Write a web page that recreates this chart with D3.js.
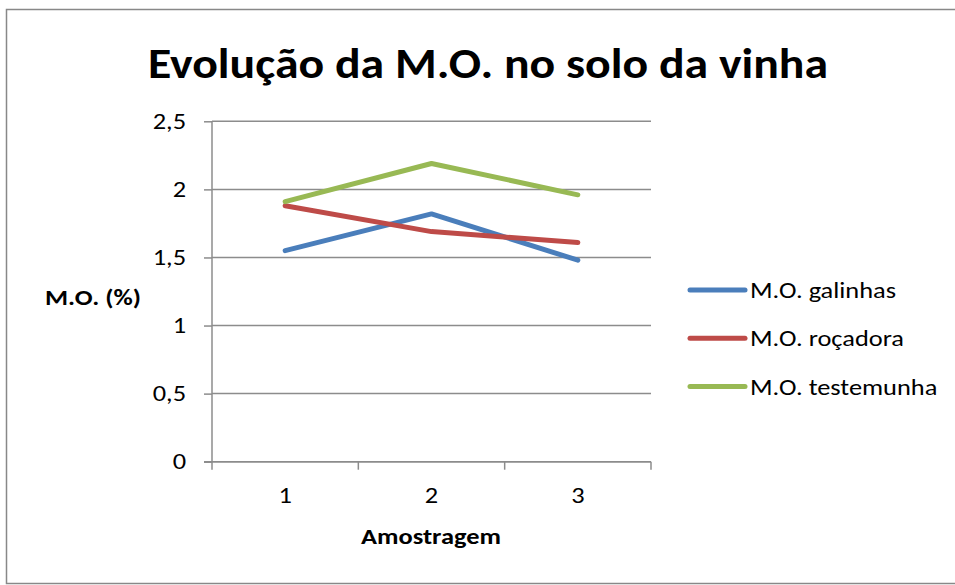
<!DOCTYPE html>
<html><head><meta charset="utf-8">
<script src="https://cdn.jsdelivr.net/npm/d3@7"></script>
<style>
body{margin:0;background:#fff;}
text{font-family:Carlito, Lato, "Open Sans", sans-serif;fill:#000;}
</style></head>
<body><svg id="c" width="955" height="585"></svg>
<script>
const categories = ["1","2","3"];
const galinhas = [1.55, 1.82, 1.48];
const rocadora = [1.88, 1.69, 1.61];
const testemunha = [1.91, 2.19, 1.96];
const seriesNames = ["M.O. galinhas","M.O. roçadora","M.O. testemunha"];
const seriesColors = ["#4A7EBB","#BE4B48","#98B954"];
const yTicks = [0, 0.5, 1, 1.5, 2, 2.5];
const title = "Evolução da M.O. no solo da vinha";
const xTitle = "Amostragem";
const yTitle = "M.O. (%)";

const series = [galinhas, rocadora, testemunha].map((v,i)=>({name:seriesNames[i],color:seriesColors[i],values:v}));
const SX = 1.2; // horizontal text stretch seen in the reference

const svg = d3.select("#c");
svg.append("rect").attr("x",6.5).attr("y",9.5).attr("width",960).attr("height",574)
  .attr("fill","#fff").attr("stroke","#888").attr("stroke-width",1.5);

const L=212, R=651, T=121.3, B=461.7;
const x = d3.scaleBand().domain(categories).range([L,R]);
const y = d3.scaleLinear().domain([0,2.5]).range([B,T]);

// gridlines
svg.append("g").selectAll("line").data(yTicks).join("line")
  .attr("x1",L).attr("x2",R).attr("y1",d=>y(d)).attr("y2",d=>y(d))
  .attr("stroke","#8c8c8c").attr("stroke-width",1.5);

// y axis
const yAxis = svg.append("g").attr("transform",`translate(${L},0)`)
  .call(d3.axisLeft(y).tickValues(yTicks).tickSize(8).tickPadding(9)
    .tickFormat(d=>String(d).replace(".",",")));
yAxis.select(".domain").attr("stroke","#8c8c8c").attr("stroke-width",1.5).attr("d",`M0,${T}V${B}`);
yAxis.selectAll(".tick line").attr("stroke","#8c8c8c").attr("stroke-width",1.5);
yAxis.selectAll("text").style("font-size","22px").attr("fill","#000")
  .attr("x",-26/SX).attr("transform",`scale(${SX},1)`);

// x axis
const xAxis = svg.append("g").attr("transform",`translate(0,${B})`)
  .call(d3.axisBottom(x).tickSize(0).tickPadding(26));
xAxis.select(".domain").attr("stroke","#8c8c8c").attr("stroke-width",1.5).attr("d",`M${L-8},0H${R}`);
xAxis.selectAll("text").style("font-size","22px").attr("fill","#000").attr("transform",`scale(${SX},1)`);
const bounds = [L, ...categories.map(c=>x(c)+x.bandwidth())];
xAxis.append("g").selectAll("line").data(bounds).join("line")
  .attr("x1",d=>d).attr("x2",d=>d).attr("y1",0).attr("y2",8)
  .attr("stroke","#8c8c8c").attr("stroke-width",1.5);

// lines
const line = d3.line().x((d,i)=>x(categories[i])+x.bandwidth()/2).y(d=>y(d));
svg.append("g").selectAll("path").data(series).join("path")
  .attr("d",d=>line(d.values)).attr("fill","none")
  .attr("stroke",d=>d.color).attr("stroke-width",5)
  .attr("stroke-linecap","round").attr("stroke-linejoin","round");

// title
svg.append("text").attr("x",488).attr("y",78).attr("text-anchor","middle")
  .style("font-size","42px").style("font-weight","bold")
  .attr("textLength",680).attr("lengthAdjust","spacingAndGlyphs").text(title);

function stretchedText(px, py, anchor, size, bold, str){
  return svg.append("text").attr("transform",`translate(${px},${py}) scale(${SX},1)`)
    .attr("text-anchor",anchor).style("font-size",size+"px")
    .style("font-weight",bold?"bold":"normal").text(str);
}
stretchedText(431, 544, "middle", 22, true, xTitle);
stretchedText(45, 305, "start", 22, true, yTitle);

// legend
const lg = svg.append("g").selectAll("g").data(series).join("g")
  .attr("transform",(d,i)=>`translate(690,${290+i*48.3})`);
lg.append("line").attr("x1",0).attr("x2",55).attr("y1",0).attr("y2",0)
  .attr("stroke",d=>d.color).attr("stroke-width",5).attr("stroke-linecap","round");
lg.append("text").attr("transform",`translate(60,8) scale(${SX},1)`).style("font-size","22px").text(d=>d.name);
</script></body></html>
